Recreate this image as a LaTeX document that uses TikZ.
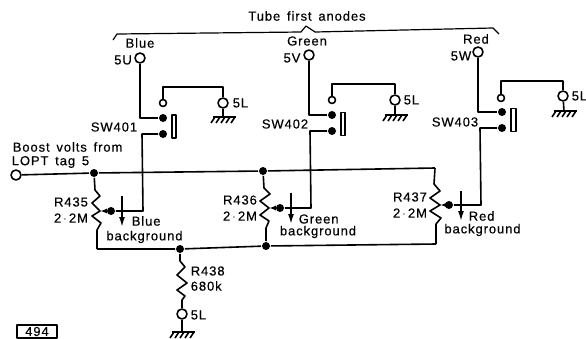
\documentclass[tikz,border=0pt]{standalone}
\usepackage{fontspec}
\setmainfont[LetterSpace=7,WordSpace=1.5,FakeBold=0.4]{Liberation Sans}
\usepackage{tikz}
\usetikzlibrary{arrows.meta}

\tikzset{
	lab/.style={inner sep=0pt, font=\fontsize{13}{13}\selectfont},
	term/.style={circle, draw, fill=white, inner sep=0pt, minimum size=10pt},
	smallterm/.style={circle, draw, fill=white, inner sep=0pt, minimum size=7pt},
	jdot/.style={circle, fill=black, inner sep=0pt, minimum size=8pt},
	swbar/.style={draw, fill=white, inner sep=0pt, minimum width=4.5pt, minimum height=23pt},
	numbox/.style={draw, inner sep=0pt, minimum width=40pt, minimum height=13pt},
	ctrl/.style={-{Latex[length=10pt,width=6pt]}},
	wiper/.style={-{Latex[length=7pt,width=5pt]}}
}
\newcommand{\gndhash}[1]{
	\draw (#1) ++(-10,0) -- ++(23,0);
	\draw (#1) ++(-8,0) -- ++(-4,6);
	\draw (#1) ++(-3,0) -- ++(-4,6);
	\draw (#1) ++(2,0) -- ++(-4,6);
	\draw (#1) ++(7,0) -- ++(-4,6);
	\draw (#1) ++(12,0) -- ++(-4,6);
}

\begin{document}
\begin{tikzpicture}[x=1pt, y=-1pt, line width=1.6pt, line join=round]
	\useasboundingbox (0,0) rectangle (586,338);
	% first anodes bracket
	\node[lab] (title) at (307,16) {Tube first anodes};
	\coordinate (b1) at (113,40);
	\coordinate (b2) at (499,34);
	\draw[line width=1.2pt] (b1) -- (117,34) -- (301,32) -- (306,26) -- (315,32) -- (493,28) -- (b2);
	%
	\begin{scope}
	\node[lab] (col) at (140,43) {Blue};
	\node[lab] (tag) at (123,60) {5U};
	\node[lab] (sw) at (114,127) {SW401};
	\node[term] (v1) at (140,58) {};
	\node[jdot] (v2) at (163,118) {};
	\node[jdot] (sw1low) at (163,134) {};
	\node[smallterm] (v4) at (163,103) {};
	\node[term] (v5) at (223,103) {};
	\node[lab, anchor=west] (gl) at (232,103) {5L};
	\node[swbar] (bar) at (174,126.5) {};
	\coordinate (v6) at (223,117);
	%
	\draw (v1) |- (v2);
	\draw (v4) |- (223,87) -- (v5);
	\draw (v5) -- (v6);
	\gndhash{v6}
	\end{scope}
	%
	\begin{scope}[shift={(169,-3)}]
	\node[lab] (col) at (138,44) {Green};
	\node[lab] (tag) at (123,61) {5V};
	\node[lab] (sw) at (116,127) {SW402};
	\node[term] (v1) at (140,58) {};
	\node[jdot] (v2) at (163,118) {};
	\node[jdot] (sw2low) at (163,134) {};
	\node[smallterm] (v4) at (163,103) {};
	\node[term] (v5) at (226,103) {};
	\node[lab, anchor=west] (gl) at (234,103) {5L};
	\node[swbar] (bar) at (174,127) {};
	\coordinate (v6) at (226,118);
	%
	\draw (v1) |- (v2);
	\draw (v4) |- (226,87) -- (v5);
	\draw (v5) -- (v6);
	\gndhash{v6}
	\end{scope}
	%
	\begin{scope}[shift={(338,-6)}]
	\node[lab] (col) at (138,45) {Red};
	\node[lab] (tag) at (123,62) {5W};
	\node[lab] (sw) at (117,128) {SW403};
	\node[term] (v1) at (140,58) {};
	\node[jdot] (v2) at (164,118) {};
	\node[jdot] (sw3low) at (164,134) {};
	\node[smallterm] (v4) at (163,104) {};
	\node[term] (v5) at (225,102) {};
	\node[lab, anchor=west] (gl) at (233,102) {5L};
	\node[swbar] (bar) at (175.5,126) {};
	\coordinate (v6) at (226,117);
	%
	\draw (v1) |- (v2);
	\draw (v4) |- (225,87) -- (v5);
	\draw (v5) -- (v6);
	\gndhash{v6}
	\end{scope}
	%
	% boost rail and common return
	\node[lab, anchor=west] (boost1) at (12,147) {Boost volts from};
	\node[lab, anchor=west] (boost2) at (11,162) {LOPT tag 5};
	\node[term] (in) at (16,175) {};
	\node[jdot] (j1) at (94,173) {};
	\node[jdot] (j2) at (263,171) {};
	\coordinate (j3) at (435,168);
	\coordinate (k1) at (97,249);
	\node[jdot] (k2) at (180,249) {};
	\node[jdot] (k3) at (266,246) {};
	\coordinate (k4) at (436,244);
	\draw (in) -- (j1) -- (j2) -- (j3);
	\draw (k1) -- (k2) -- (k3) -- (k4);
	%
	% R435
	\node[lab] (r1) at (71,202) {R435};
	\node[lab] (r1v) at (71,218) {2\,$\cdot$\,2M};
	\coordinate (w1) at (100,211);
	\node[jdot] (d1) at (111,211) {};
	\draw (j1) -- (95,190) -- (100,196) -- (92,203) -- (w1) -- (92,216) -- (101,223) -- (97,230) -- (k1);
	\draw[wiper] (d1) -- (w1);
	\draw (d1) -- (143,211) -- (142,134) -- (sw1low);
	\coordinate (a1s) at (122,196);
	\coordinate (a1e) at (122,227);
	\draw[ctrl] (a1s) -- (a1e);
	\node[lab, anchor=west] (bl) at (131,221) {Blue};
	\node[lab] (bb) at (144.5,237) {background};
	%
	% R436
	\node[lab] (r2) at (240,200) {R436};
	\node[lab] (r2v) at (240,216) {2\,$\cdot$\,2M};
	\coordinate (w2) at (269,208);
	\node[jdot] (d2) at (280,208) {};
	\draw (j2) -- (264,188) -- (270,194) -- (260,201) -- (w2) -- (260,215) -- (269,221) -- (266,228) -- (k3);
	\draw[wiper] (d2) -- (w2);
	\draw (d2) -- (311,208) -- (310,131) -- (sw2low);
	\coordinate (a2s) at (291,193);
	\coordinate (a2e) at (291,224);
	\draw[ctrl] (a2s) -- (a2e);
	\node[lab, anchor=west] (gr) at (298,219) {Green};
	\node[lab] (gb) at (318,232) {background};
	%
	% R437
	\node[lab] (r3) at (410,197) {R437};
	\node[lab] (r3v) at (410,213) {2\,$\cdot$\,2M};
	\coordinate (w3) at (440,205);
	\node[jdot] (d3) at (449,205) {};
	\draw (j3) -- (434,184) -- (440,191) -- (430,198) -- (w3) -- (430,211) -- (441,218) -- (436,224) -- (k4);
	\draw[wiper] (d3) -- (w3);
	\draw (d3) -- (481,205) -- (480,128) -- (sw3low);
	\coordinate (a3s) at (461,191);
	\coordinate (a3e) at (461,221);
	\draw[ctrl] (a3s) -- (a3e);
	\node[lab, anchor=west] (rd) at (468,216) {Red};
	\node[lab] (rb) at (482.5,230) {background};
	%
	% R438
	\node[lab, anchor=west] (r4) at (190,271) {R438};
	\node[lab, anchor=west] (r4v) at (190,286) {680k};
	\node[term] (t4) at (182,314) {};
	\node[lab, anchor=west] (gl4) at (190,315) {5L};
	\coordinate (g4) at (182,332);
	\draw (k2) -- (180,261) -- (185,267) -- (177,275) -- (187,283) -- (177,290) -- (185,296) -- (182,300) -- (t4);
	\draw (t4) -- (g4);
	\gndhash{g4}
	%
	\node[numbox, lab] (fig) at (37,331.5) {494};
\end{tikzpicture}
\end{document}
